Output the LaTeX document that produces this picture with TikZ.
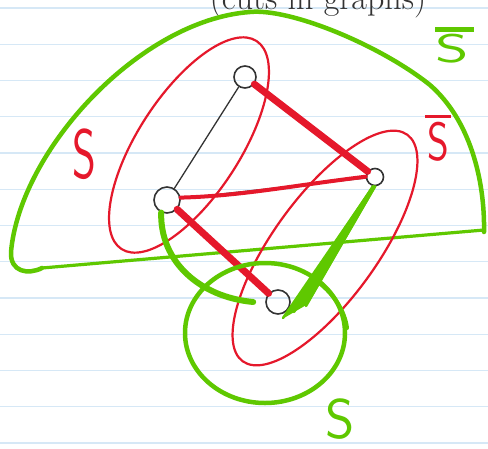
\documentclass[tikz,border=0pt]{standalone}
\usepackage{fontspec}
\usetikzlibrary{calc}
\definecolor{gcol}{HTML}{5FC800}
\definecolor{rcol}{HTML}{E5182B}
\definecolor{kcol}{HTML}{333333}
\definecolor{paper}{HTML}{D6E8F6}
\begin{document}
\begin{tikzpicture}[x=1pt,y=-1pt, line cap=round, line join=round,
  vert/.style={circle, draw=kcol, line width=1.6, inner sep=0pt},
  kedge/.style={draw=kcol, line width=1.3},
  redge/.style={draw=rcol, line width=#1},
  gline/.style={draw=gcol, line width=#1},
  rset/.style={draw=rcol, line width=2.2},
  lbl/.style={inner sep=0pt, anchor=base, font=\sffamily}
]
\useasboundingbox (0,0) rectangle (488,448);
\clip (0,0) rectangle (488,448);
\fill[white] (0,0) rectangle (488,448);
\foreach \k in {0,...,12} \draw[paper, line width=1.2] (0,{8+36.25*\k}) -- (488,{8+36.25*\k});

% title (cut off at top, as in the reference)
\node[anchor=base, inner sep=0pt, text=kcol, font=\fontsize{34}{34}\selectfont] (title) at (318,9) {(cuts in graphs)};

% vertices
\node[vert, minimum size=22pt] (A) at (245,77) {};
\node[vert, minimum size=26pt] (B) at (167,200) {};
\node[vert, minimum size=17pt] (C) at (375,177) {};
\node[vert, minimum size=24pt] (D) at (278,302) {};

% green set S-bar (dome)
\draw[gline=4.5] (42,268) .. controls (28,275) and (10,272) .. (11,252)
  .. controls (20,150) and (140,20) .. (250,12)
  .. controls (290,8) and (380,45) .. (430,85)
  .. controls (470,120) and (485,180) .. (484,232);
\draw[gline=3.2] (484,230) -- (42,268);

% red sets
\draw[rset, rotate around={57:(189,145)}] (189,145) ellipse (124 and 51);
\draw[rset, rotate around={54:(325,248)}] (325,248) ellipse (140 and 52);

% black edges
\draw[kedge] (A) -- (B);
\draw[kedge] (B) -- (C);
\draw[kedge] (B) -- (D);

% red cut edges
\draw[redge=7] (A) -- (C);
\draw[redge=7] (B) -- (D);
\draw[redge=4] (B.10) .. controls (240,196) and (290,186) .. (C.178);

% green cut edges
\draw[gline=6] (B.-115) .. controls (160,262) and (200,297) .. ([xshift=-12pt]D.west);
\fill[gcol] (C.-110) -- (C.-80) -- ($(D)+(30,2)$) -- ($(D)+(6,16)$) -- cycle;
\draw[gline=2.5] (C.-100) -- ($(D)+(5,16)$);
\draw[gline=2.5] (C.-100) -- ($(D)+(16,10)$);
\draw[gline=2.5] (C.-90) -- ($(D)+(28,4)$);

% green set S around D
\draw[gline=4.5] (265,333) ellipse (80 and 70);
\draw[gline=4] (318,282) .. controls (335,295) and (345,312) .. (347,328);

% labels
\node[lbl, text=rcol, xscale=0.65, font=\sffamily\fontsize{70}{70}\selectfont] (lS1) at (84,178) {S};
\node[lbl, text=rcol, xscale=0.77, font=\sffamily\fontsize{54}{54}\selectfont] (lS2) at (438,160) {\makebox[0pt][l]{\hspace{-3pt}\rule[42pt]{34pt}{3.5pt}}S};
\node[lbl, text=gcol, xscale=1.6, font=\sffamily\fontsize{40}{40}\selectfont] (lS3) at (452,62) {\makebox[0pt][l]{\rule[30pt]{24pt}{5pt}}S};
\node[lbl, text=gcol, font=\sffamily\fontsize{56}{56}\selectfont] (lS4) at (340,438) {S};
\end{tikzpicture}
\end{document}
